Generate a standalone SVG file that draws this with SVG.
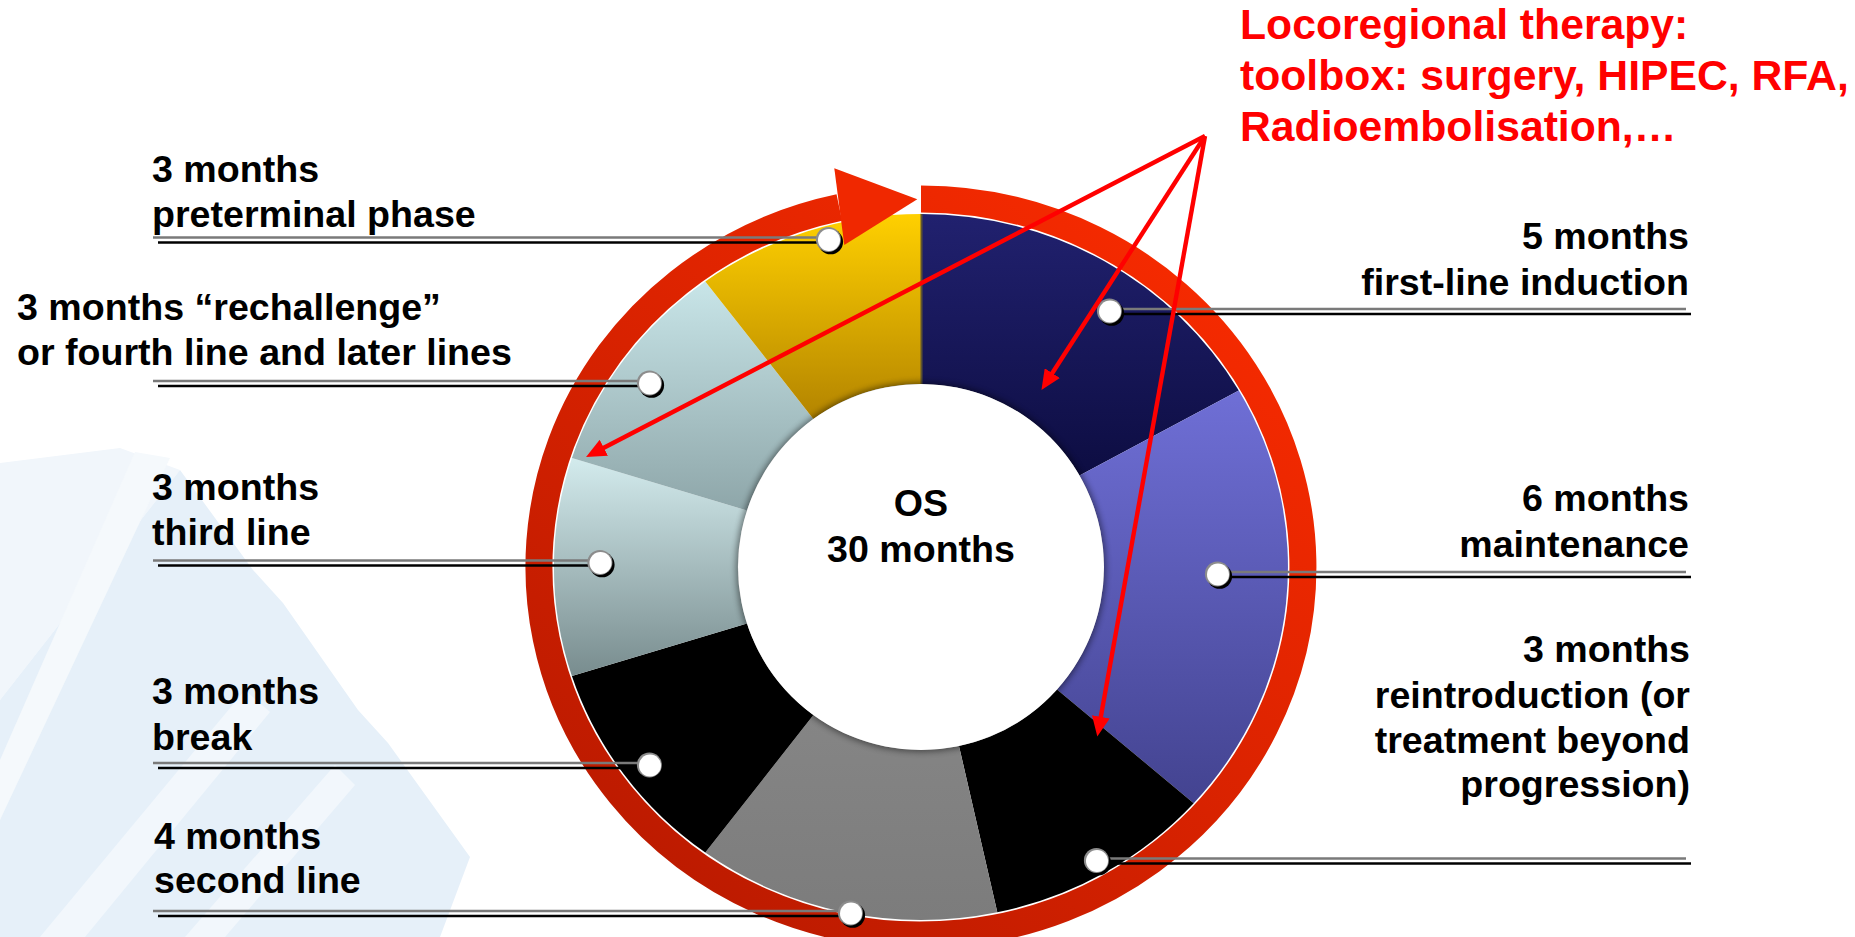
<svg xmlns="http://www.w3.org/2000/svg" width="1855" height="937" viewBox="0 0 1855 937">
<style>
.lbl{font-family:"Liberation Sans",Arial,Helvetica,sans-serif;font-weight:bold;font-size:37.6px;fill:#000;}
.red{font-size:42.7px;fill:#ff0000;}
.end{text-anchor:end;}
.mid{text-anchor:middle;}
.lg{stroke:#7a7a7a;stroke-width:2.6;}
.lb{stroke:#000;stroke-width:2.4;}
.arr{stroke:#ff0000;stroke-width:4.4;fill:none;marker-end:url(#ah);}
.seg{stroke:none;}
</style>
<defs>
<linearGradient id="gNavy" x1="0" y1="0" x2="0" y2="1"><stop offset="0" stop-color="#21216f"/><stop offset="1" stop-color="#0d0d42"/></linearGradient>
<linearGradient id="gMaint" x1="0" y1="0" x2="0" y2="1"><stop offset="0" stop-color="#6f6fd6"/><stop offset="1" stop-color="#434390"/></linearGradient>
<linearGradient id="gGrey" x1="0" y1="0" x2="0" y2="1"><stop offset="0" stop-color="#858585"/><stop offset="1" stop-color="#7c7c7c"/></linearGradient>
<linearGradient id="gThird" x1="0" y1="0" x2="0" y2="1"><stop offset="0" stop-color="#d3ebed"/><stop offset="1" stop-color="#788c8e"/></linearGradient>
<linearGradient id="gRech" x1="0" y1="0" x2="0" y2="1"><stop offset="0" stop-color="#c8e5e8"/><stop offset="1" stop-color="#8ea6a9"/></linearGradient>
<linearGradient id="gGold" x1="0" y1="0" x2="0" y2="1"><stop offset="0" stop-color="#ffd000"/><stop offset="1" stop-color="#b38400"/></linearGradient>
<linearGradient id="gRing" gradientUnits="userSpaceOnUse" x1="1250" y1="250" x2="700" y2="930"><stop offset="0" stop-color="#f92b00"/><stop offset="1" stop-color="#bb1a00"/></linearGradient>
<filter id="soft" x="-20%" y="-20%" width="140%" height="140%"><feGaussianBlur stdDeviation="3"/></filter>
<marker id="ah" viewBox="0 0 20 18" refX="7" refY="9" markerWidth="20" markerHeight="18" markerUnits="userSpaceOnUse" orient="auto"><path d="M0,0 L20,9 L0,18 Z" fill="#ff0000"/></marker>
<g id="dot"><circle cx="1.6" cy="1.8" r="12.5" fill="#000"/><circle cx="-0.6" cy="-0.6" r="12.5" fill="#8c8c8c"/><circle r="11" fill="#fff"/></g>
</defs>
<rect width="1855" height="937" fill="#fff"/>
<g id="background">
<polygon points="0,463 120,448 180,470 0,700" fill="#f1f6fb"/>
<polygon points="180,470 253,570 283,603 358,710 388,743 470,857 440,937 0,937 0,700" fill="#e6f0f9"/>
<polygon points="0,760 135,452 170,458 0,820" fill="#f5f9fc"/>
<polygon points="40,937 245,690 270,712 85,937" fill="#f2f7fc"/>
<polygon points="185,937 335,765 355,785 225,937" fill="#f2f7fc"/>
</g>
<g id="donut">
<path class="seg" d="M921,384 L921,214 A367,353 0 0,1 1238.8,390.5 L1079.5,475.5 A183,183 0 0,0 921,384 Z" fill="url(#gNavy)"/>
<path class="seg" d="M1079.5,475.5 L1238.8,390.5 A367,353 0 0,1 1193.7,803.2 L1057,689.4 A183,183 0 0,0 1079.5,475.5 Z" fill="url(#gMaint)"/>
<path class="seg" d="M1057,689.4 L1193.7,803.2 A367,353 0 0,1 997.3,912.3 L959,746 A183,183 0 0,0 1057,689.4 Z" fill="#000"/>
<path class="seg" d="M959,746 L997.3,912.3 A367,353 0 0,1 705.3,852.6 L813.4,715 A183,183 0 0,0 959,746 Z" fill="url(#gGrey)"/>
<path class="seg" d="M813.4,715 L705.3,852.6 A367,353 0 0,1 571.9,676.1 L747,623.5 A183,183 0 0,0 813.4,715 Z" fill="#000"/>
<path class="seg" d="M747,623.5 L571.9,676.1 A367,353 0 0,1 571.9,457.9 L747,510.5 A183,183 0 0,0 747,623.5 Z" fill="url(#gThird)"/>
<path class="seg" d="M747,510.5 L571.9,457.9 A367,353 0 0,1 705.3,281.4 L813.4,419 A183,183 0 0,0 747,510.5 Z" fill="url(#gRech)"/>
<path class="seg" d="M813.4,419 L705.3,281.4 A367,353 0 0,1 921,214 L921,384 A183,183 0 0,0 813.4,419 Z" fill="url(#gGold)"/>
<line x1="921.5" y1="214" x2="921.5" y2="384" stroke="#5e5430" stroke-width="2"/>
<circle cx="921" cy="567" r="185" fill="#000" opacity="0.45" filter="url(#soft)"/>
<circle cx="921" cy="567" r="183" fill="#fff"/>
<path d="M921,199 A382,368 0 1,1 839.3,207.5" fill="none" stroke="url(#gRing)" stroke-width="27"/>
<polygon points="834.3,168.3 917.3,199.3 844.3,245" fill="#f02800"/>
</g>
<g id="center-label">
<text class="lbl mid" x="921" y="516">OS</text>
<text class="lbl mid" x="921" y="562">30 months</text>
</g>
<g id="connectors">
<line class="lg" x1="153" y1="237.5" x2="829" y2="237.5"/><line class="lb" x1="158" y1="242.5" x2="829" y2="242.5"/>
<line class="lg" x1="153" y1="381" x2="650" y2="381"/><line class="lb" x1="158" y1="386" x2="650" y2="386"/>
<line class="lg" x1="153" y1="560.5" x2="600" y2="560.5"/><line class="lb" x1="158" y1="565.5" x2="600" y2="565.5"/>
<line class="lg" x1="153" y1="763" x2="650" y2="763"/><line class="lb" x1="158" y1="768" x2="650" y2="768"/>
<line class="lg" x1="153" y1="911" x2="851" y2="911"/><line class="lb" x1="158" y1="916" x2="851" y2="916"/>
<line class="lg" x1="1110" y1="309" x2="1686" y2="309"/><line class="lb" x1="1110" y1="314" x2="1691" y2="314"/>
<line class="lg" x1="1218" y1="572" x2="1686" y2="572"/><line class="lb" x1="1218" y1="577" x2="1691" y2="577"/>
<line class="lg" x1="1097" y1="858.5" x2="1686" y2="858.5"/><line class="lb" x1="1097" y1="863.5" x2="1691" y2="863.5"/>
<use href="#dot" x="829" y="240"/>
<use href="#dot" x="650" y="383.5"/>
<use href="#dot" x="600.5" y="563"/>
<use href="#dot" x="650" y="765.5"/>
<use href="#dot" x="851" y="913.5"/>
<use href="#dot" x="1110" y="311.5"/>
<use href="#dot" x="1218" y="574.5"/>
<use href="#dot" x="1097" y="861"/>
<line class="arr" x1="1205" y1="136" x2="597.6" y2="451"/>
<line class="arr" x1="1205" y1="136" x2="1048.5" y2="379"/>
<line class="arr" x1="1205" y1="136" x2="1099.6" y2="723.7"/>
</g>
<g id="label-preterminal"><text class="lbl" x="152" y="182">3 months</text><text class="lbl" x="152" y="227">preterminal phase</text></g>
<g id="label-rechallenge"><text class="lbl" x="17" y="320">3 months “rechallenge”</text><text class="lbl" x="17" y="365">or fourth line and later lines</text></g>
<g id="label-third"><text class="lbl" x="152" y="500">3 months</text><text class="lbl" x="152" y="545">third line</text></g>
<g id="label-break"><text class="lbl" x="152" y="704">3 months</text><text class="lbl" x="152" y="750">break</text></g>
<g id="label-second"><text class="lbl" x="154" y="849">4 months</text><text class="lbl" x="154" y="893">second line</text></g>
<g id="label-first"><text class="lbl end" x="1689" y="249">5 months</text><text class="lbl end" x="1689" y="295">first-line induction</text></g>
<g id="label-maintenance"><text class="lbl end" x="1689" y="511">6 months</text><text class="lbl end" x="1689" y="557">maintenance</text></g>
<g id="label-reintroduction"><text class="lbl end" x="1690" y="662">3 months</text><text class="lbl end" x="1690" y="708">reintroduction (or</text><text class="lbl end" x="1690" y="753">treatment beyond</text><text class="lbl end" x="1690" y="797">progression)</text></g>
<g id="label-locoregional"><text class="lbl red" x="1240" y="39">Locoregional therapy:</text><text class="lbl red" x="1240" y="90">toolbox: surgery, HIPEC, RFA,</text><text class="lbl red" x="1240" y="141">Radioembolisation,…</text></g>
</svg>
